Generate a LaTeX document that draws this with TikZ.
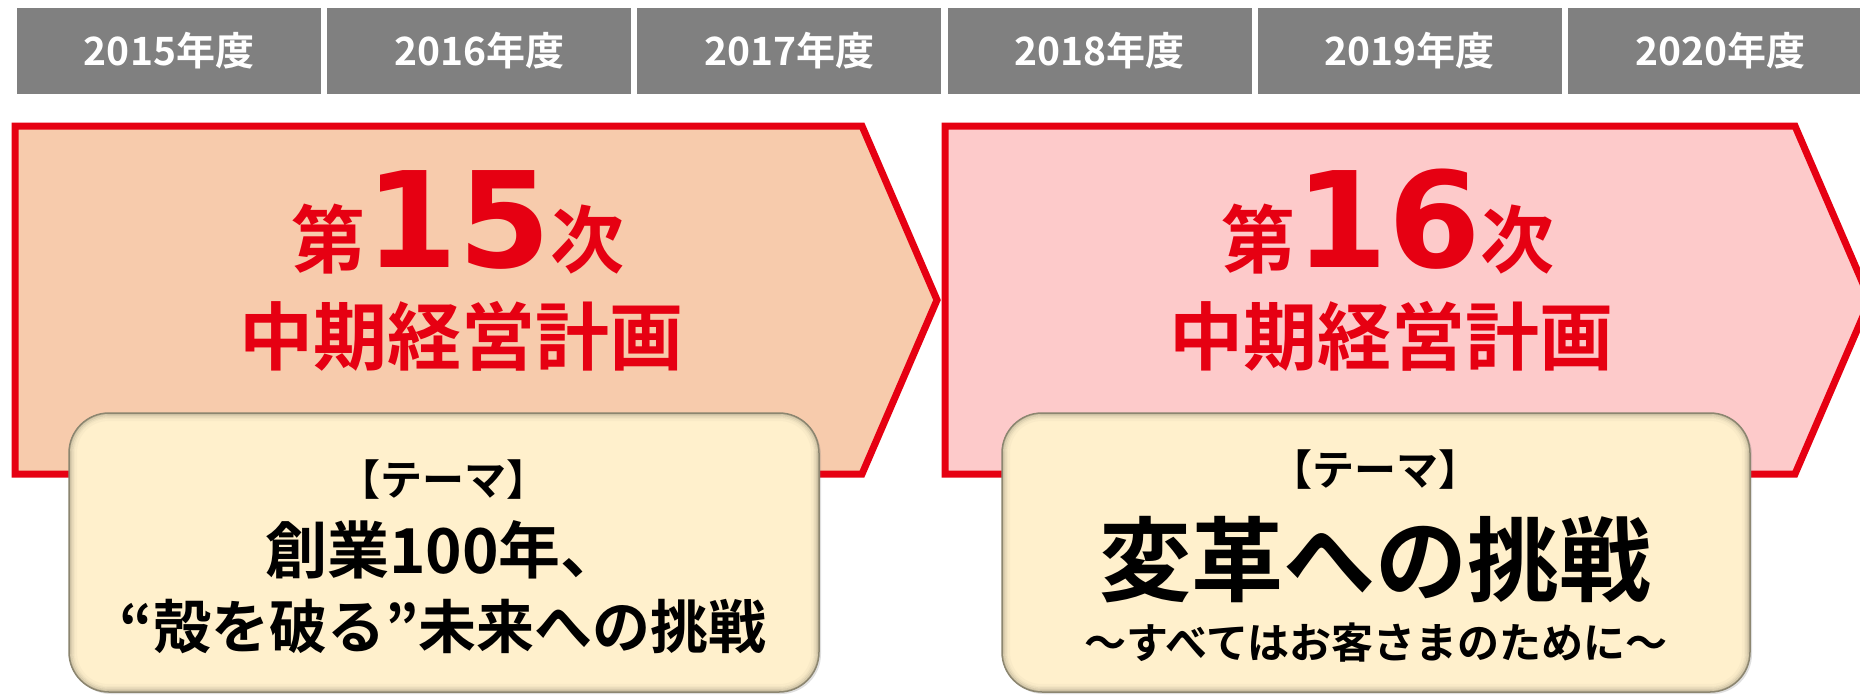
\documentclass[tikz,border=0pt]{standalone}
\usepackage{fontspec}
\newfontfamily\jpbold{Noto Sans CJK JP Bold}
\newfontfamily\numbold{DejaVu Sans Bold}
\usetikzlibrary{math,positioning,shadows}

\definecolor{planred}{HTML}{E60012}
\definecolor{peach}{HTML}{F7CBAC}
\definecolor{rose}{HTML}{FDCACA}
\definecolor{cream}{HTML}{FFF0CC}
\definecolor{bevel}{HTML}{8C8670}
\definecolor{yeargray}{HTML}{808080}

\begin{document}
\begin{tikzpicture}[x=1pt,y=-1pt,
    yearcell/.style={fill=yeargray, text=white, minimum width=304pt, minimum height=86pt, inner sep=0pt, font=\jpbold\fontsize{39}{42}\selectfont},
    planarrow/.style={draw=planred, line width=7pt, line join=miter},
    plantitle/.style={text=planred, inner sep=0pt},
    themebox/.style={fill=cream, draw=bevel, line width=1.5pt, rounded corners=40pt, minimum width=750pt, minimum height=279pt, inner sep=0pt, drop shadow={shadow xshift=2pt, shadow yshift=-2pt, opacity=.25}},
    themetext/.style={inner sep=0pt}]
	\tikzmath{
		\pitch = 310.2;
		\planshift = 930;
	}

    \useasboundingbox (0,0) rectangle (1860,694);
    \fill[white] (0,0) rectangle (1860,694);

    % fiscal years
    \foreach \yr [count=\i from 0] in {2015,...,2020}
        \node[yearcell] (y\yr) at ({169+\pitch*\i},51) {\yr{}年度};

    % plan arrows
    \draw[planarrow, fill=peach] (15,126) -- (862,126) -- (937,300) -- (862,474) -- (15,474) -- cycle;
    \draw[planarrow, fill=rose] (945,126) -- (1795,126) -- (1870,300) -- (1795,474) -- (945,474) -- cycle;

    \node[plantitle, anchor=base] (title15) at (458,267)
        {\fontsize{74}{80}\jpbold 第\numbold\fontsize{133}{140}\selectfont 15\fontsize{74}{80}\jpbold 次};
    \node[plantitle, font=\jpbold\fontsize{74}{80}\selectfont] (plan15) at (461,336) {中期経営計画};
    \node[plantitle, anchor=base] (title16) at (458+\planshift,267)
        {\fontsize{74}{80}\jpbold 第\numbold\fontsize{133}{140}\selectfont 16\fontsize{74}{80}\jpbold 次};
    \node[plantitle, font=\jpbold\fontsize{74}{80}\selectfont] (plan16) at (461+\planshift,336) {中期経営計画};

    % themes
    \node[themebox] (theme15) at (444,552.5) {};
    \node[themebox, minimum width=748pt] (theme16) at (1376,552.5) {};
    \foreach \n in {theme15,theme16}
        \foreach \d/\op in {1.5/0.45,3/0.3,4.5/0.18,6/0.1,8/0.05}
            \draw[bevel, opacity=\op, line width=1.6pt, rounded corners={(40-\d)*1pt}]
                ([shift={(\d,\d)}]\n.north west) rectangle ([shift={(-\d,-\d)}]\n.south east);

    \node[themetext, font=\jpbold\fontsize{42}{46}\selectfont] (label15) at (443,480) {【テーマ】};
    \node[themetext, font=\jpbold\fontsize{62}{66}\selectfont] (main15a) at (444,550) {創業100年、};
    \node[themetext, font=\jpbold\fontsize{58}{62}\selectfont] (main15b) at (443,627) {“殻を破る”未来への挑戦};

    \node[themetext, font=\jpbold\fontsize{42}{46}\selectfont] (label16) at (1375,470) {【テーマ】};
    \node[themetext, font=\jpbold\fontsize{92}{98}\selectfont] (main16) at (1375,560) {変革への挑戦};
    \node[themetext, font=\jpbold\fontsize{42}{46}\selectfont] (sub16) at (1376,643) {～すべてはお客さまのために～};
   % \node[fill=yellow] at (1375,552) {};
\end{tikzpicture}
\end{document}
